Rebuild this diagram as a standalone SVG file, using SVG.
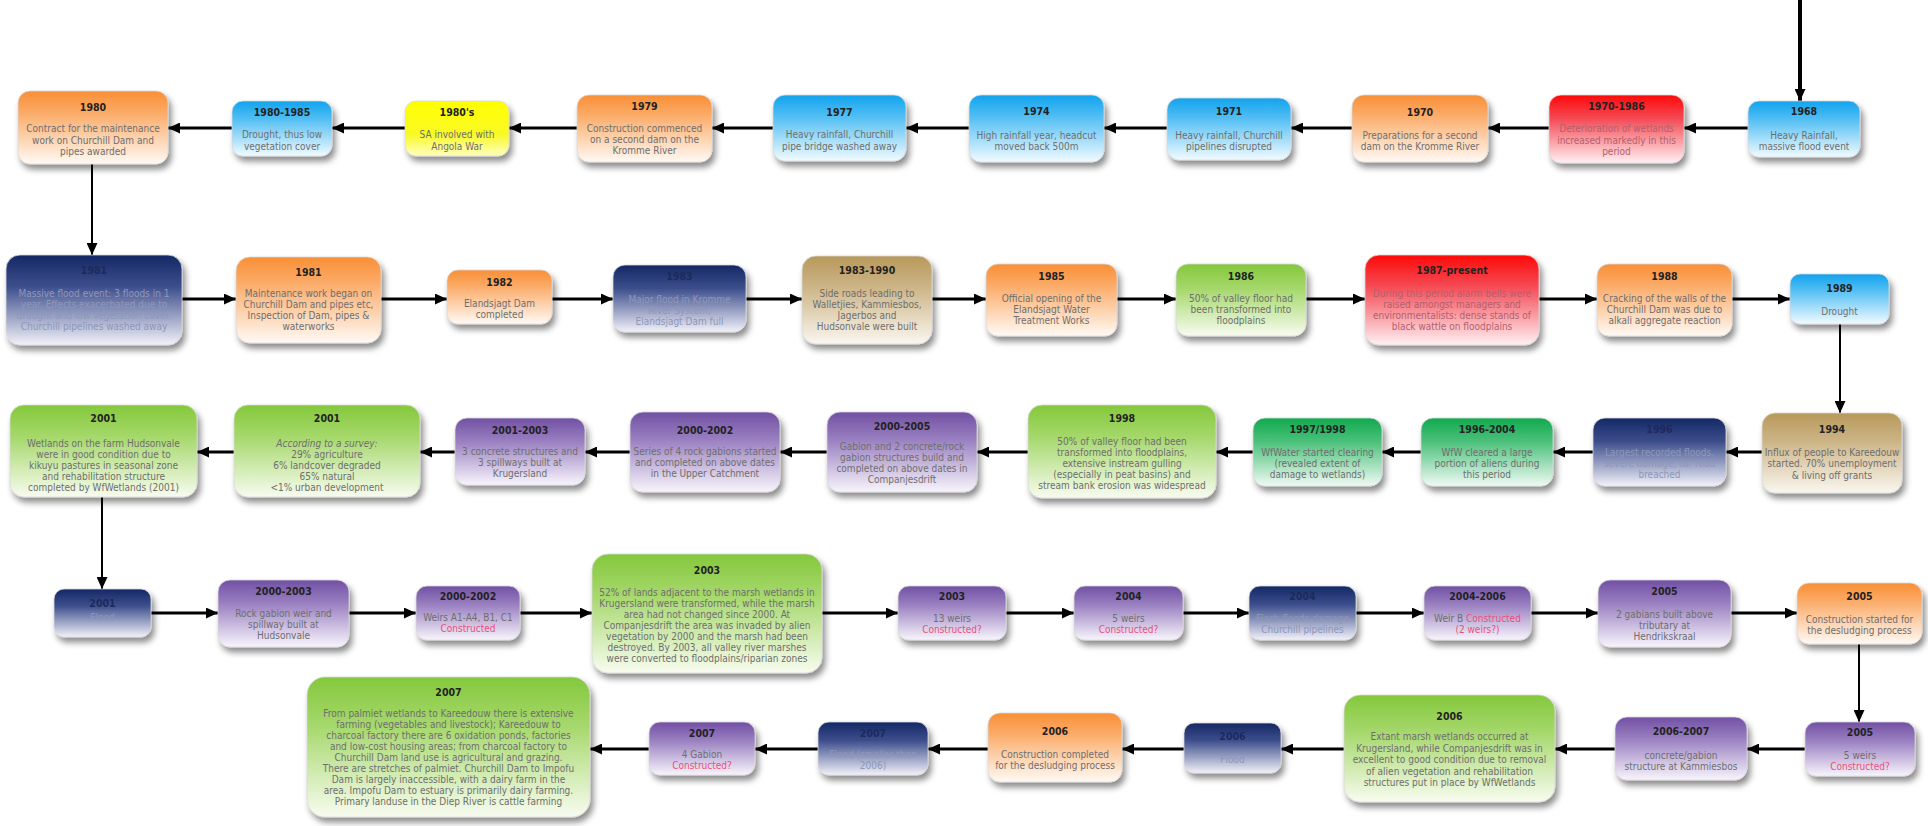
<svg xmlns="http://www.w3.org/2000/svg" width="1928" height="826" viewBox="0 0 1928 826">
<defs>
<style>
.box{stroke:#d8d8d8;stroke-width:0.8;filter:url(#sh)}
.t{font-family:"DejaVu Sans Condensed","DejaVu Sans",sans-serif;font-stretch:condensed;font-size:10.5px;font-weight:bold;fill:#222;text-anchor:middle}
.b{font-family:"DejaVu Sans Condensed","DejaVu Sans",sans-serif;font-stretch:condensed;font-size:10px;fill:#6e6e6e;text-anchor:middle}
.dk .t{fill:#1c2a5c}
.dk .b{fill:#8f96b9}
.rd .b{fill:#b3606e}
.r{fill:#ec4f7c}
.i{font-style:italic}
.o{fill:url(#gO)}.bl{fill:url(#gB)}.y{fill:url(#gY)}.re{fill:url(#gR)}.d{fill:url(#gD)}.tn{fill:url(#gT)}.g{fill:url(#gG)}.e{fill:url(#gE)}.p{fill:url(#gP)}
#conn line{stroke:#000;stroke-width:3;marker-end:url(#ah)}
#conn line.v{stroke-width:2}
</style>
<filter id="sh" x="-20%" y="-20%" width="150%" height="160%"><feDropShadow dx="3" dy="5" stdDeviation="3" flood-color="#000" flood-opacity="0.45"/></filter>
<linearGradient id="gO" x1="0" y1="0" x2="0" y2="1"><stop offset="0" stop-color="#f98f36"/><stop offset="0.3" stop-color="#fbab68"/><stop offset="1" stop-color="#fffaf5"/></linearGradient>
<linearGradient id="gB" x1="0" y1="0" x2="0" y2="1"><stop offset="0" stop-color="#12a3ee"/><stop offset="0.3" stop-color="#4cbcf3"/><stop offset="1" stop-color="#f2fbff"/></linearGradient>
<linearGradient id="gY" x1="0" y1="0" x2="0" y2="1"><stop offset="0" stop-color="#ffff00"/><stop offset="0.6" stop-color="#f9f925"/><stop offset="1" stop-color="#ffffc0"/></linearGradient>
<linearGradient id="gR" x1="0" y1="0" x2="0" y2="1"><stop offset="0" stop-color="#ff0808"/><stop offset="0.35" stop-color="#f44b55"/><stop offset="1" stop-color="#fff0f3"/></linearGradient>
<linearGradient id="gD" x1="0" y1="0" x2="0" y2="1"><stop offset="0" stop-color="#142865"/><stop offset="0.35" stop-color="#3d4e8c"/><stop offset="1" stop-color="#f2f2f9"/></linearGradient>
<linearGradient id="gT" x1="0" y1="0" x2="0" y2="1"><stop offset="0" stop-color="#b8995b"/><stop offset="0.35" stop-color="#ccb486"/><stop offset="1" stop-color="#faf7f0"/></linearGradient>
<linearGradient id="gG" x1="0" y1="0" x2="0" y2="1"><stop offset="0" stop-color="#84c83c"/><stop offset="0.35" stop-color="#a6d86c"/><stop offset="1" stop-color="#f8fcf0"/></linearGradient>
<linearGradient id="gE" x1="0" y1="0" x2="0" y2="1"><stop offset="0" stop-color="#10aa4e"/><stop offset="0.35" stop-color="#4cc17b"/><stop offset="1" stop-color="#f0faf4"/></linearGradient>
<linearGradient id="gP" x1="0" y1="0" x2="0" y2="1"><stop offset="0" stop-color="#7150a4"/><stop offset="0.35" stop-color="#9a80c1"/><stop offset="1" stop-color="#f8f5fc"/></linearGradient>
<marker id="ah" markerWidth="12" markerHeight="11" refX="12" refY="5.5" orient="auto" markerUnits="userSpaceOnUse"><path d="M0,0 L12,5.5 L0,11 z" fill="#000"/></marker>
</defs>
<rect width="1928" height="826" fill="#fff"/>

<g id="conn">
<line x1="1800" y1="0" x2="1800" y2="101" style="stroke-width:4"/>
<line x1="1748" y1="128" x2="1684" y2="128"/>
<line x1="1549" y1="128" x2="1488" y2="128"/>
<line x1="1352" y1="128" x2="1291" y2="128"/>
<line x1="1167" y1="128" x2="1104" y2="128"/>
<line x1="969" y1="128" x2="906" y2="128"/>
<line x1="773" y1="128" x2="712" y2="128"/>
<line x1="577" y1="128" x2="509" y2="128"/>
<line x1="405" y1="128" x2="332" y2="128"/>
<line x1="232" y1="128" x2="168" y2="128"/>
<line class="v" x1="92" y1="164" x2="92" y2="255"/>
<line x1="182" y1="299" x2="236" y2="299"/>
<line x1="381" y1="299" x2="447" y2="299"/>
<line x1="552" y1="299" x2="613" y2="299"/>
<line x1="746" y1="299" x2="802" y2="299"/>
<line x1="932" y1="299" x2="986" y2="299"/>
<line x1="1117" y1="299" x2="1176" y2="299"/>
<line x1="1306" y1="299" x2="1365" y2="299"/>
<line x1="1539" y1="299" x2="1597" y2="299"/>
<line x1="1732" y1="299" x2="1790" y2="299"/>
<line class="v" x1="1840" y1="324" x2="1840" y2="413"/>
<line x1="1762" y1="452" x2="1726" y2="452"/>
<line x1="1593" y1="452" x2="1553" y2="452"/>
<line x1="1421" y1="452" x2="1382" y2="452"/>
<line x1="1253" y1="452" x2="1216" y2="452"/>
<line x1="1028" y1="452" x2="977" y2="452"/>
<line x1="827" y1="452" x2="780" y2="452"/>
<line x1="630" y1="452" x2="585" y2="452"/>
<line x1="455" y1="452" x2="420" y2="452"/>
<line x1="234" y1="452" x2="197" y2="452"/>
<line class="v" x1="102" y1="497" x2="102" y2="589"/>
<line x1="151" y1="613" x2="218" y2="613"/>
<line x1="349" y1="613" x2="416" y2="613"/>
<line x1="520" y1="613" x2="592" y2="613"/>
<line x1="822" y1="613" x2="898" y2="613"/>
<line x1="1006" y1="613" x2="1074" y2="613"/>
<line x1="1183" y1="613" x2="1249" y2="613"/>
<line x1="1356" y1="613" x2="1424" y2="613"/>
<line x1="1531" y1="613" x2="1598" y2="613"/>
<line x1="1731" y1="613" x2="1797" y2="613"/>
<line class="v" x1="1859" y1="644" x2="1859" y2="722"/>
<line x1="1805" y1="749" x2="1747" y2="749"/>
<line x1="1615" y1="749" x2="1555" y2="749"/>
<line x1="1344" y1="749" x2="1281" y2="749"/>
<line x1="1184" y1="749" x2="1122" y2="749"/>
<line x1="988" y1="749" x2="928" y2="749"/>
<line x1="818" y1="749" x2="755" y2="749"/>
<line x1="649" y1="749" x2="590" y2="749"/>
</g>

<!-- Row 1 -->
<g id="n1980"><rect class="box o" x="18" y="91" width="150" height="73" rx="12"/><text class="t" x="93" y="111">1980</text><text class="b" x="93" y="132">Contract for the maintenance</text><text class="b" x="93" y="144">work on Churchill Dam and</text><text class="b" x="93" y="155">pipes awarded</text></g>
<g id="n1980-1985"><rect class="box bl" x="232" y="101" width="100" height="55" rx="11"/><text class="t" x="282" y="116">1980-1985</text><text class="b" x="282" y="138">Drought, thus low</text><text class="b" x="282" y="149.5">vegetation cover</text></g>
<g id="n1980s"><rect class="box y" x="405" y="101" width="104" height="55" rx="11"/><text class="t" x="457" y="116">1980's</text><text class="b" x="457" y="138">SA involved with</text><text class="b" x="457" y="149.5">Angola War</text></g>
<g id="n1979"><rect class="box o" x="577" y="95" width="135" height="67" rx="12"/><text class="t" x="644.5" y="110">1979</text><text class="b" x="644.5" y="132">Construction commenced</text><text class="b" x="644.5" y="143">on a second dam on the</text><text class="b" x="644.5" y="154">Kromme River</text></g>
<g id="n1977"><rect class="box bl" x="773" y="95" width="133" height="66" rx="12"/><text class="t" x="839.5" y="116">1977</text><text class="b" x="839.5" y="138">Heavy rainfall, Churchill</text><text class="b" x="839.5" y="149.5">pipe bridge washed away</text></g>
<g id="n1974"><rect class="box bl" x="969" y="95" width="135" height="67" rx="12"/><text class="t" x="1036.5" y="115">1974</text><text class="b" x="1036.5" y="139">High rainfall year, headcut</text><text class="b" x="1036.5" y="150">moved back 500m</text></g>
<g id="n1971"><rect class="box bl" x="1167" y="98" width="124" height="62" rx="12"/><text class="t" x="1229" y="115">1971</text><text class="b" x="1229" y="138.5">Heavy rainfall, Churchill</text><text class="b" x="1229" y="149.5">pipelines disrupted</text></g>
<g id="n1970"><rect class="box o" x="1352" y="95" width="136" height="67" rx="12"/><text class="t" x="1420" y="116">1970</text><text class="b" x="1420" y="138.5">Preparations for a second</text><text class="b" x="1420" y="149.5">dam on the Kromme River</text></g>
<g id="n1970-1986" class="rd"><rect class="box re" x="1549" y="95" width="135" height="68" rx="12"/><text class="t" x="1616.5" y="110">1970-1986</text><text class="b" x="1616.5" y="132">Deterioration of wetlands</text><text class="b" x="1616.5" y="143.5">increased markedly in this</text><text class="b" x="1616.5" y="155">period</text></g>
<g id="n1968"><rect class="box bl" x="1748" y="101" width="112" height="56" rx="11"/><text class="t" x="1804" y="115">1968</text><text class="b" x="1804" y="138.5">Heavy Rainfall,</text><text class="b" x="1804" y="149.5">massive flood event</text></g>

<!-- Row 2 -->
<g id="n1981a" class="dk"><rect class="box d" x="6" y="255" width="176" height="90" rx="14"/><text class="t" x="94" y="274">1981</text><text class="b" x="94" y="297">Massive flood event: 3 floods in 1</text><text class="b" x="94" y="308">year. Effects exacerbated due to</text><text class="b" x="94" y="319">drought and low vegetation cover.</text><text class="b" x="94" y="330">Churchill pipelines washed away</text></g>
<g id="n1981b"><rect class="box o" x="236" y="257" width="145" height="86" rx="14"/><text class="t" x="308.5" y="276">1981</text><text class="b" x="308.5" y="297">Maintenance work began on</text><text class="b" x="308.5" y="308">Churchill Dam and pipes etc,</text><text class="b" x="308.5" y="319">Inspection of Dam, pipes &amp;</text><text class="b" x="308.5" y="330">waterworks</text></g>
<g id="n1982"><rect class="box o" x="447" y="270" width="105" height="54" rx="11"/><text class="t" x="499.5" y="286">1982</text><text class="b" x="499.5" y="307">Elandsjagt Dam</text><text class="b" x="499.5" y="318">completed</text></g>
<g id="n1983" class="dk"><rect class="box d" x="613" y="265" width="133" height="67" rx="12"/><text class="t" x="679.5" y="280">1983</text><text class="b" x="679.5" y="302.5">Major flood in Kromme</text><text class="b" x="679.5" y="313.5">River System,</text><text class="b" x="679.5" y="324.5">Elandsjagt Dam full</text></g>
<g id="n1983-1990"><rect class="box tn" x="802" y="256" width="130" height="88" rx="14"/><text class="t" x="867" y="274">1983-1990</text><text class="b" x="867" y="297">Side roads leading to</text><text class="b" x="867" y="308">Walletjies, Kammiesbos,</text><text class="b" x="867" y="319">Jagerbos and</text><text class="b" x="867" y="330">Hudsonvale were built</text></g>
<g id="n1985"><rect class="box o" x="986" y="264" width="131" height="72" rx="12"/><text class="t" x="1051.5" y="280">1985</text><text class="b" x="1051.5" y="302">Official opening of the</text><text class="b" x="1051.5" y="313">Elandsjagt Water</text><text class="b" x="1051.5" y="324">Treatment Works</text></g>
<g id="n1986"><rect class="box g" x="1176" y="264" width="130" height="72" rx="12"/><text class="t" x="1241" y="280">1986</text><text class="b" x="1241" y="302">50% of valley floor had</text><text class="b" x="1241" y="313">been transformed into</text><text class="b" x="1241" y="324">floodplains</text></g>
<g id="n1987" class="rd"><rect class="box re" x="1365" y="255" width="174" height="90" rx="14"/><text class="t" x="1452" y="274">1987-present</text><text class="b" x="1452" y="297">During this period alarm bells were</text><text class="b" x="1452" y="308">raised amongst managers and</text><text class="b" x="1452" y="319">environmentalists: dense stands of</text><text class="b" x="1452" y="330">black wattle on floodplains</text></g>
<g id="n1988"><rect class="box o" x="1597" y="264" width="135" height="72" rx="12"/><text class="t" x="1664.5" y="280">1988</text><text class="b" x="1664.5" y="302">Cracking of the walls of the</text><text class="b" x="1664.5" y="313">Churchill Dam was due to</text><text class="b" x="1664.5" y="324">alkali aggregate reaction</text></g>
<g id="n1989"><rect class="box bl" x="1790" y="274" width="99" height="50" rx="10"/><text class="t" x="1839.5" y="292">1989</text><text class="b" x="1839.5" y="314.5">Drought</text></g>

<!-- Row 3 -->
<g id="n2001a"><rect class="box g" x="10" y="405" width="187" height="92" rx="14"/><text class="t" x="103.5" y="421.5">2001</text><text class="b" x="103.5" y="446.5">Wetlands on the farm Hudsonvale</text><text class="b" x="103.5" y="457.5">were in good condition due to</text><text class="b" x="103.5" y="468.5">kikuyu pastures in seasonal zone</text><text class="b" x="103.5" y="479.5">and rehabilitation structure</text><text class="b" x="103.5" y="490.5">completed by WfWetlands (2001)</text></g>
<g id="n2001b"><rect class="box g" x="234" y="405" width="186" height="92" rx="14"/><text class="t" x="327" y="421.5">2001</text><text class="b i" x="327" y="446.5">According to a survey:</text><text class="b" x="327" y="457.5">29% agriculture</text><text class="b" x="327" y="468.5">6% landcover degraded</text><text class="b" x="327" y="479.5">65% natural</text><text class="b" x="327" y="490.5">&lt;1% urban development</text></g>
<g id="n2001-2003"><rect class="box p" x="455" y="418" width="130" height="67" rx="12"/><text class="t" x="520" y="434">2001-2003</text><text class="b" x="520" y="455">3 concrete structures and</text><text class="b" x="520" y="466">3 spillways built at</text><text class="b" x="520" y="477">Krugersland</text></g>
<g id="n2000-2002a"><rect class="box p" x="630" y="412" width="150" height="80" rx="13"/><text class="t" x="705" y="434">2000-2002</text><text class="b" x="705" y="455">Series of 4 rock gabions started</text><text class="b" x="705" y="466">and completed on above dates</text><text class="b" x="705" y="477">in the Upper Catchment</text></g>
<g id="n2000-2005"><rect class="box p" x="827" y="412" width="150" height="80" rx="13"/><text class="t" x="902" y="430">2000-2005</text><text class="b" x="902" y="450">Gabion and 2 concrete/rock</text><text class="b" x="902" y="461">gabion structures build and</text><text class="b" x="902" y="472">completed on above dates in</text><text class="b" x="902" y="483">Companjesdrift</text></g>
<g id="n1998"><rect class="box g" x="1028" y="405" width="188" height="93" rx="14"/><text class="t" x="1122" y="422">1998</text><text class="b" x="1122" y="445">50% of valley floor had been</text><text class="b" x="1122" y="456">transformed into floodplains,</text><text class="b" x="1122" y="467">extensive instream gulling</text><text class="b" x="1122" y="478">(especially in peat basins) and</text><text class="b" x="1122" y="489">stream bank erosion was widespread</text></g>
<g id="n1997-1998"><rect class="box e" x="1253" y="418" width="129" height="68" rx="12"/><text class="t" x="1317.5" y="433">1997/1998</text><text class="b" x="1317.5" y="455.5">WfWater started clearing</text><text class="b" x="1317.5" y="466.5">(revealed extent of</text><text class="b" x="1317.5" y="477.5">damage to wetlands)</text></g>
<g id="n1996-2004"><rect class="box e" x="1421" y="418" width="132" height="68" rx="12"/><text class="t" x="1487" y="433">1996-2004</text><text class="b" x="1487" y="455.5">WfW cleared a large</text><text class="b" x="1487" y="466.5">portion of aliens during</text><text class="b" x="1487" y="477.5">this period</text></g>
<g id="n1996" class="dk"><rect class="box d" x="1593" y="418" width="133" height="68" rx="12"/><text class="t" x="1659.5" y="433">1996</text><text class="b" x="1659.5" y="455.5">Largest recorded floods,</text><text class="b" x="1659.5" y="466.5">severe damage, tar road</text><text class="b" x="1659.5" y="477.5">breached</text></g>
<g id="n1994"><rect class="box tn" x="1762" y="413" width="140" height="80" rx="13"/><text class="t" x="1832" y="433">1994</text><text class="b" x="1832" y="456">Influx of people to Kareedouw</text><text class="b" x="1832" y="467">started. 70% unemployment</text><text class="b" x="1832" y="478.5">&amp; living off grants</text></g>

<!-- Row 4 -->
<g id="n2001c" class="dk"><rect class="box d" x="54" y="589" width="97" height="48" rx="10"/><text class="t" x="102.5" y="607">2001</text><text class="b" x="102.5" y="621">Flood</text></g>
<g id="n2000-2003"><rect class="box p" x="218" y="580" width="131" height="67" rx="12"/><text class="t" x="283.5" y="595">2000-2003</text><text class="b" x="283.5" y="617">Rock gabion weir and</text><text class="b" x="283.5" y="628">spillway built at</text><text class="b" x="283.5" y="639">Hudsonvale</text></g>
<g id="n2000-2002b"><rect class="box p" x="416" y="586" width="104" height="54" rx="11"/><text class="t" x="468" y="600">2000-2002</text><text class="b" x="468" y="621">Weirs A1-A4, B1, C1</text><text class="b r" x="468" y="632">Constructed</text></g>
<g id="n2003a"><rect class="box g" x="592" y="554" width="230" height="119" rx="16"/><text class="t" x="707" y="573.5">2003</text><text class="b" x="707" y="596">52% of lands adjacent to the marsh wetlands in</text><text class="b" x="707" y="607">Krugersland were transformed, while the marsh</text><text class="b" x="707" y="618">area had not changed since 2000. At</text><text class="b" x="707" y="629">Companjesdrift the area was invaded by alien</text><text class="b" x="707" y="640">vegetation by 2000 and the marsh had been</text><text class="b" x="707" y="651">destroyed. By 2003, all valley river marshes</text><text class="b" x="707" y="662">were converted to floodplains/riparian zones</text></g>
<g id="n2003b"><rect class="box p" x="898" y="586" width="108" height="54" rx="11"/><text class="t" x="952" y="600">2003</text><text class="b" x="952" y="622">13 weirs</text><text class="b r" x="952" y="633">Constructed?</text></g>
<g id="n2004a"><rect class="box p" x="1074" y="586" width="109" height="54" rx="11"/><text class="t" x="1128.5" y="600">2004</text><text class="b" x="1128.5" y="622">5 weirs</text><text class="b r" x="1128.5" y="633">Constructed?</text></g>
<g id="n2004b" class="dk"><rect class="box d" x="1249" y="586" width="107" height="54" rx="11"/><text class="t" x="1302.5" y="600">2004</text><text class="b" x="1302.5" y="622">Flash floods damage</text><text class="b" x="1302.5" y="633">Churchill pipelines</text></g>
<g id="n2004-2006"><rect class="box p" x="1424" y="586" width="107" height="54" rx="11"/><text class="t" x="1477.5" y="600">2004-2006</text><text class="b" x="1477.5" y="622">Weir B <tspan class="r">Constructed</tspan></text><text class="b r" x="1477.5" y="633">(2 weirs?)</text></g>
<g id="n2005a"><rect class="box p" x="1598" y="580" width="133" height="67" rx="12"/><text class="t" x="1664.5" y="595">2005</text><text class="b" x="1664.5" y="618">2 gabians built above</text><text class="b" x="1664.5" y="629">tributary at</text><text class="b" x="1664.5" y="640">Hendrikskraal</text></g>
<g id="n2005b"><rect class="box o" x="1797" y="583" width="125" height="61" rx="12"/><text class="t" x="1859.5" y="600">2005</text><text class="b" x="1859.5" y="623">Construction started for</text><text class="b" x="1859.5" y="634">the desludging process</text></g>

<!-- Row 5 -->
<g id="n2007a"><rect class="box g" x="307" y="677" width="283" height="140" rx="18"/><text class="t" x="448.5" y="696">2007</text><text class="b" x="448.5" y="717">From palmiet wetlands to Kareedouw there is extensive</text><text class="b" x="448.5" y="728">farming (vegetables and livestock); Kareedouw to</text><text class="b" x="448.5" y="739">charcoal factory there are 6 oxidation ponds, factories</text><text class="b" x="448.5" y="750">and low-cost housing areas; from charcoal factory to</text><text class="b" x="448.5" y="761">Churchill Dam land use is agricultural and grazing.</text><text class="b" x="448.5" y="772">There are stretches of palmiet. Churchill Dam to Impofu</text><text class="b" x="448.5" y="783">Dam is largely inaccessible, with a dairy farm in the</text><text class="b" x="448.5" y="794">area. Impofu Dam to estuary is primarily dairy farming.</text><text class="b" x="448.5" y="805">Primary landuse in the Diep River is cattle farming</text></g>
<g id="n2007b"><rect class="box p" x="649" y="722" width="106" height="53" rx="11"/><text class="t" x="702" y="737">2007</text><text class="b" x="702" y="758">4 Gabion</text><text class="b r" x="702" y="769">Constructed?</text></g>
<g id="n2007c" class="dk"><rect class="box d" x="818" y="722" width="110" height="53" rx="11"/><text class="t" x="873" y="737">2007</text><text class="b" x="873" y="758">Flood (smaller than</text><text class="b" x="873" y="769">2006)</text></g>
<g id="n2006a"><rect class="box o" x="988" y="713" width="134" height="69" rx="12"/><text class="t" x="1055" y="735">2006</text><text class="b" x="1055" y="757.5">Construction completed</text><text class="b" x="1055" y="768.5">for the desludging process</text></g>
<g id="n2006b" class="dk"><rect class="box d" x="1184" y="723" width="97" height="50" rx="10"/><text class="t" x="1232.5" y="740">2006</text><text class="b" x="1232.5" y="763">Flood</text></g>
<g id="n2006c"><rect class="box g" x="1344" y="695" width="211" height="107" rx="16"/><text class="t" x="1449.5" y="719.5">2006</text><text class="b" x="1449.5" y="740">Extant marsh wetlands occurred at</text><text class="b" x="1449.5" y="751.5">Krugersland, while Companjesdrift was in</text><text class="b" x="1449.5" y="763">excellent to good condition due to removal</text><text class="b" x="1449.5" y="774.5">of alien vegetation and rehabilitation</text><text class="b" x="1449.5" y="786">structures put in place by WfWetlands</text></g>
<g id="n2006-2007"><rect class="box p" x="1615" y="717" width="132" height="63" rx="12"/><text class="t" x="1681" y="735">2006-2007</text><text class="b" x="1681" y="758.5">concrete/gabion</text><text class="b" x="1681" y="769.5">structure at Kammiesbos</text></g>
<g id="n2005c"><rect class="box p" x="1805" y="722" width="110" height="54" rx="11"/><text class="t" x="1860" y="736">2005</text><text class="b" x="1860" y="758.5">5 weirs</text><text class="b r" x="1860" y="769.5">Constructed?</text></g>
</svg>
